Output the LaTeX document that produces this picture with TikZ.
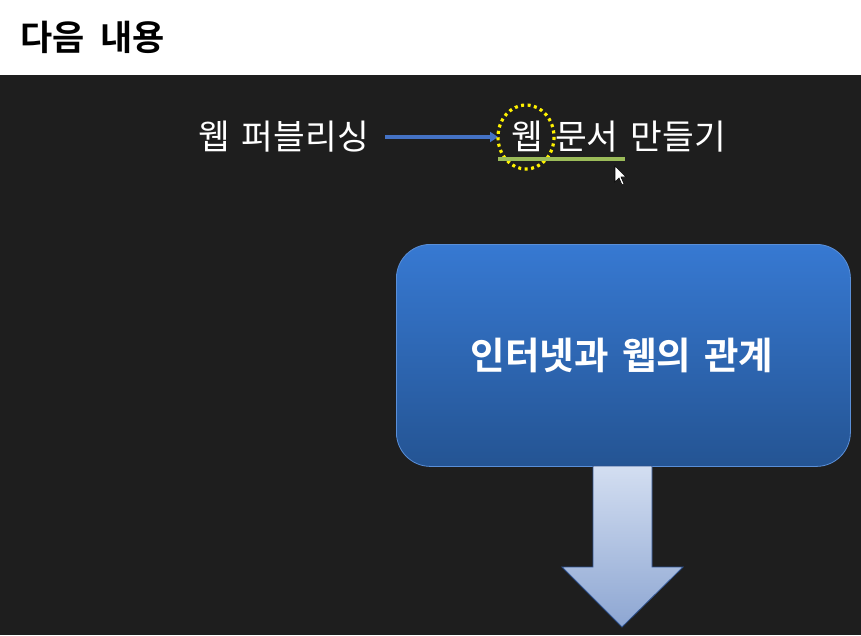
\documentclass[tikz,border=0pt]{standalone}
\usepackage{fontspec}
\setmainfont{Noto Sans CJK KR}
\newfontfamily\krbold{Noto Sans CJK KR Bold}
\usetikzlibrary{arrows.meta}
\definecolor{bgdark}{HTML}{1E1E1E}
\definecolor{arrowblue}{HTML}{4472C4}
\definecolor{olivegreen}{HTML}{9BBB59}
\definecolor{boxtop}{HTML}{3779D2}
\definecolor{boxbot}{HTML}{245493}
\definecolor{boxedge}{HTML}{5A8FD8}
\definecolor{dntop}{HTML}{D3DEF1}
\definecolor{dnbot}{HTML}{8DA6D2}
\definecolor{dnedge}{HTML}{2F528F}
\newcommand{\wsp}{\hspace{0.35em}}
\begin{document}
\begin{tikzpicture}[x=1pt,y=-1pt,
  titletext/.style={font=\krbold\fontsize{35}{38}\selectfont, text=black, inner sep=0pt, anchor=west},
  linetext/.style={font=\fontsize{34.5}{36}\selectfont, text=white, inner sep=0pt},
  boxtext/.style={font=\krbold\fontsize{37.5}{40}\selectfont, text=white, inner sep=0pt}]
\useasboundingbox (0,0) rectangle (861,635);
\fill[white] (0,0) rectangle (861,75);
\fill[bgdark] (0,75) rectangle (861,635);
\node[titletext] (title) at (20,37) {다음\hspace{0.45em}내용};
\node[linetext, anchor=east] (pub) at (369,137) {웹\wsp 퍼블리싱};
\node[linetext, anchor=west] (doc) at (511,137) {웹\wsp 문서\wsp 만들기};
\coordinate (arrend) at (498,137);
\draw[arrowblue, line width=3.5pt, -{Triangle[length=8pt,width=10pt]}] (pub.east) ++(16,0) -- (arrend);
\draw[yellow, line width=3.2pt, dash pattern=on 3pt off 3.5pt] (526,137) ellipse [x radius=28, y radius=32];
\coordinate (ulA) at (498,159);
\coordinate (ulB) at (625,159);
\draw[olivegreen, line width=3.5pt] (ulA) -- (ulB);
% mouse cursor
\fill[white, draw=black, line width=0.6pt] (615,166) -- (615,182) -- (619,178) -- (622,185) -- (624,184) -- (621,177) -- (626,177) -- cycle;
% box
\node[draw=boxedge, line width=0.8pt, rounded corners=34pt, top color=boxtop, bottom color=boxbot,
  minimum width=454pt, minimum height=222pt, anchor=north west] (box) at (396,244) {};
\node[boxtext] (boxlabel) at (622,355) {인터넷과\wsp 웹의\wsp 관계};
% down arrow
\shade[top color=dntop, bottom color=dnbot, draw=dnedge, line width=0.8pt]
  (593,466) -- (652,466) -- (652,567) -- (683,567) -- (622,627) -- (562,567) -- (593,567) -- cycle;
\end{tikzpicture}
\end{document}
